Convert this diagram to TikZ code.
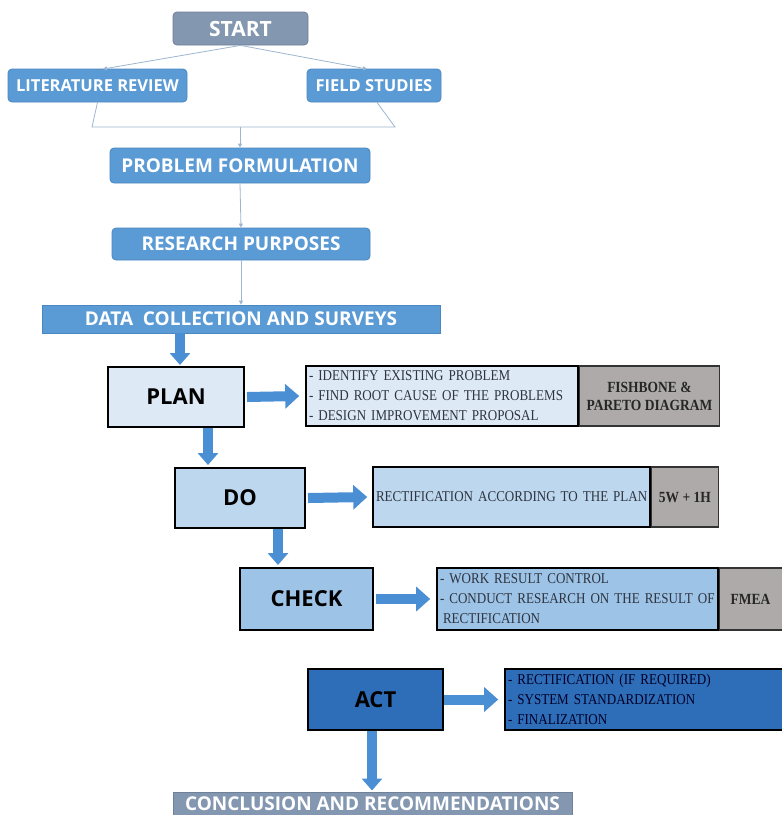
\documentclass[tikz,border=0pt]{standalone}
\usepackage{fontspec}
\setmainfont{Liberation Serif}
\newfontfamily\titlefont{Open Sans}
\newfontfamily\listfont{Liberation Serif}[FakeStretch=0.87]
\usetikzlibrary{arrows.meta,calc}
\definecolor{boxblue}{HTML}{5B9BD5}
\definecolor{boxblueedge}{HTML}{4A86C0}
\definecolor{slate}{HTML}{8497B0}
\definecolor{thinline}{HTML}{9DB5CF}
\definecolor{planfill}{HTML}{DDEAF6}
\definecolor{dofill}{HTML}{BDD7EE}
\definecolor{checkfill}{HTML}{9DC3E6}
\definecolor{actfill}{HTML}{2E6DB8}
\definecolor{grayfill}{HTML}{AEAAAA}
\definecolor{arrowblue}{HTML}{4A8ED4}
\definecolor{listtext}{HTML}{2E3440}
\tikzset{
  rbox/.style={rectangle, rounded corners=4pt, fill=boxblue, draw=boxblueedge, line width=0.8pt,
    text=white, font=\titlefont\bfseries\fontsize{19}{19}\selectfont, inner sep=0pt},
  smalltitle/.style={font=\titlefont\bfseries\fontsize{16.5}{16.5}\selectfont},
  sbox/.style={rbox, fill=slate, draw=slate!85!black},
  phase/.style={rectangle, draw=black, line width=2pt, font=\titlefont\bfseries\fontsize{22}{22}\selectfont, text=black, inner sep=0pt},
  listbox/.style={rectangle, draw=black, line width=1.6pt, inner sep=0pt, text width=#1, align=left,
    font=\listfont\fontsize{15}{20}\selectfont, text=listtext},
  graybox/.style={rectangle, draw=black!80, line width=1.2pt, fill=grayfill, inner sep=0pt,
    align=center, font=\listfont\bfseries\fontsize{15.5}{18}\selectfont, text=black!85},
  thin/.style={draw=thinline, line width=0.8pt},
  thinarrow/.style={thin, -{Triangle[length=4pt,width=4pt]}},
  fatarrow/.style={draw=arrowblue, line width=10pt, -{Triangle[length=14pt,width=24pt]}},
  fatarrowv/.style={draw=arrowblue, line width=10pt, -{Triangle[length=12pt,width=20pt]}},
}
\begin{document}
\begin{tikzpicture}[x=1pt,y=-1pt]
\useasboundingbox (0,0) rectangle (782,815);
\clip (0,0) rectangle (782,815);
% top flow
\node[sbox, minimum width=135pt, minimum height=33pt, font=\titlefont\bfseries\fontsize{21}{21}\selectfont] (start) at (240.5,28.5) {START};
\node[rbox, smalltitle, minimum width=179pt, minimum height=33pt] (lr) at (97.5,85.5) {LITERATURE REVIEW};
\node[rbox, smalltitle, minimum width=134pt, minimum height=33pt] (fs) at (374,85.5) {FIELD STUDIES};
\node[rbox, minimum width=260pt, minimum height=35pt] (pf) at (240,165.5) {PROBLEM FORMULATION};
\node[rbox, minimum width=258pt, minimum height=32pt] (rp) at (241,244) {RESEARCH PURPOSES};
\node[rbox, rounded corners=0pt, minimum width=398pt, minimum height=28pt] (dc) at (241,319) {DATA\ \ COLLECTION AND SURVEYS};

\coordinate (lrt) at (103,69);
\coordinate (fst) at (367,69);
\draw[thinarrow] (start.south) -- (lrt);
\draw[thinarrow] (start.south) -- (fst);
\coordinate (bl) at (92,127);
\coordinate (br) at (395,127);
\coordinate (bj) at (240,127);
\draw[thin] (lr.south) -- (bl) -- (br) -- ($(fs.south)+(3,0)$);
\draw[thinarrow] (bj) -- (pf.north);
\draw[thinarrow] (pf.south) -- (rp.north);
\draw[thinarrow] (rp.south) -- (dc.north);

% PDCA
\node[phase, fill=planfill, minimum width=136pt, minimum height=60pt] (plan) at (176,397) {PLAN};
\node[listbox=272pt, fill=planfill, minimum height=60pt] (pl) at (442,396) {\hspace{3pt}- IDENTIFY EXISTING PROBLEM\\\hspace{3pt}- FIND ROOT CAUSE OF THE PROBLEMS\\\hspace{3pt}- DESIGN IMPROVEMENT PROPOSAL};
\node[graybox, minimum width=140pt, minimum height=60pt, anchor=west] (pg) at (pl.east) {FISHBONE \&\\PARETO DIAGRAM};

\node[phase, fill=dofill, minimum width=130pt, minimum height=60pt] (do) at (240,498) {DO};
\node[listbox=277pt, fill=dofill, minimum height=60pt] (dl) at (511.5,497) {\hspace{3pt}RECTIFICATION ACCORDING TO THE PLAN};
\node[graybox, minimum width=67pt, minimum height=60pt, anchor=west] (dg) at (dl.east) {5W + 1H};

\node[phase, fill=checkfill, minimum width=133pt, minimum height=62pt] (check) at (306.5,599) {CHECK};
\node[listbox=281pt, fill=checkfill, minimum height=62pt] (cl) at (577.5,599) {\hspace{3pt}- WORK RESULT CONTROL\\\hspace{3pt}- CONDUCT RESEARCH ON THE RESULT OF\\\hspace{6pt}RECTIFICATION};
\node[graybox, minimum width=72pt, minimum height=62pt, anchor=west] (cg) at (cl.east) {FMEA\hspace{10pt}};

\node[phase, fill=actfill, minimum width=135pt, minimum height=61pt] (act) at (375.5,699.5) {ACT};
\node[listbox=285pt, fill=actfill, minimum height=61pt, text=black!85!blue] (al) at (647.5,699.5) {\hspace{3pt}- RECTIFICATION (IF REQUIRED)\\\hspace{3pt}- SYSTEM STANDARDIZATION\\\hspace{3pt}- FINALIZATION};

\node[sbox, rounded corners=0pt, minimum width=399pt, minimum height=24pt, anchor=north] (conc) at (372.5,791.5) {CONCLUSION AND RECOMMENDATIONS};

% fat arrows
\draw[fatarrow] ($(plan.east)+(2,0)$) -- ($(pl.west)+(-6,0)$);
\draw[fatarrow] ($(do.east)+(2,0)$) -- ($(dl.west)+(-5,0)$);
\draw[fatarrow] ($(check.east)+(2,0)$) -- ($(cl.west)+(-6,0)$);
\draw[fatarrow] ($(act.east)+(0,0)$) -- ($(al.west)+(-6,0)$);
\coordinate (a1) at (180,333);
\draw[fatarrowv] (dc.south -| a1) -- ($(plan.north -| a1)+(0,-1)$);
\coordinate (a2) at (208,424);
\draw[fatarrowv] (plan.south -| a2) -- ($(do.north -| a2)+(0,-2)$);
\coordinate (a3) at (278,527);
\draw[fatarrowv] (do.south -| a3) -- ($(check.north -| a3)+(0,-2)$);
\coordinate (a4) at (372,730);
\draw[fatarrowv] (act.south -| a4) -- ($(conc.north -| a4)+(0,-1)$);
\end{tikzpicture}
\end{document}
